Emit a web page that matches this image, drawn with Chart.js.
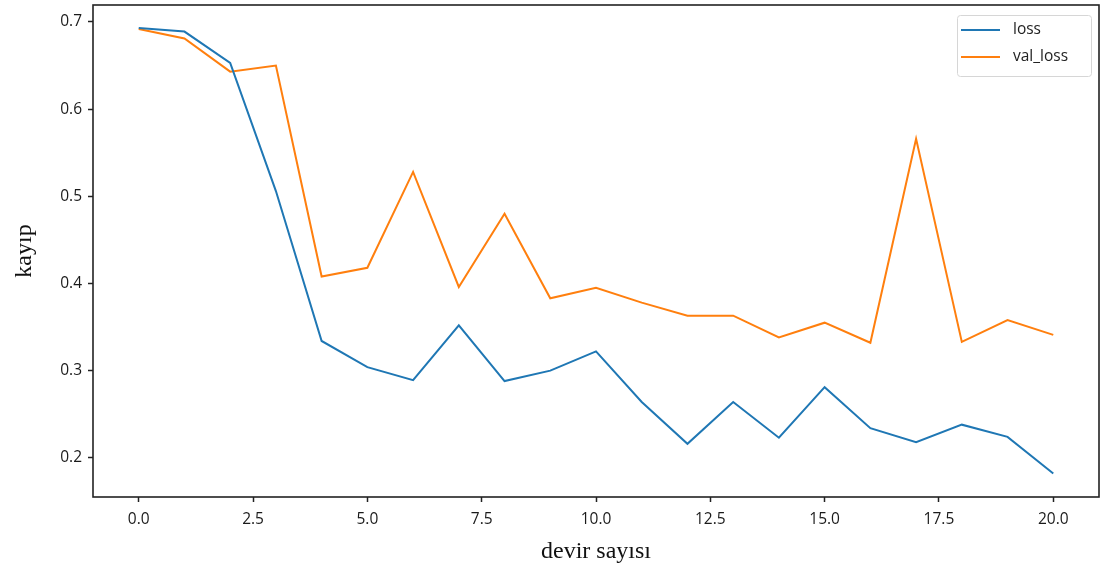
<!DOCTYPE html>
<html><head><meta charset="utf-8">
<script src="https://cdn.jsdelivr.net/npm/chart.js@4.4.1/dist/chart.umd.min.js"></script>
<style>html,body{margin:0;padding:0;background:#fff}#wrap{width:1104px;height:572px}</style>
</head><body><div id="wrap"><canvas id="c" width="1104" height="572"></canvas></div>
<script>
const epochs = [0,1,2,3,4,5,6,7,8,9,10,11,12,13,14,15,16,17,18,19,20];
const lossValues = [0.693,0.689,0.653,0.506,0.334,0.304,0.289,0.352,0.288,0.300,0.322,0.264,0.216,0.264,0.223,0.281,0.234,0.218,0.238,0.224,0.182];
const valLossValues = [0.692,0.681,0.643,0.650,0.408,0.418,0.528,0.396,0.480,0.383,0.395,0.378,0.363,0.363,0.338,0.355,0.332,0.566,0.333,0.358,0.341];
const xTicks = [0,2.5,5,7.5,10,12.5,15,17.5,20];
const yTicks = [0.2,0.3,0.4,0.5,0.6,0.7];
const seriesNames = ['loss','val_loss'];
const seriesColors = ['#1f77b4','#ff7f0e'];

const tickFont = {family:'"Open Sans", "DejaVu Sans", sans-serif', size:15.5};
const frameAndLegend = {
  id:'frameAndLegend',
  afterDatasetsDraw(chart){
    const {ctx, chartArea:a} = chart;
    ctx.save();
    ctx.strokeStyle = '#222'; ctx.lineWidth = 1.6;
    ctx.strokeRect(a.left, a.top, a.right-a.left, a.bottom-a.top);
    const bx = a.right-142, by = a.top+10, bw = 134, bh = 61;
    ctx.fillStyle = 'rgba(255,255,255,0.85)';
    ctx.strokeStyle = '#d6d6d6'; ctx.lineWidth = 1;
    ctx.beginPath();
    if (ctx.roundRect) ctx.roundRect(bx+0.5, by+0.5, bw, bh, 3); else ctx.rect(bx+0.5,by+0.5,bw,bh);
    ctx.fill(); ctx.stroke();
    ctx.font = '15.5px "Open Sans", "DejaVu Sans", sans-serif';
    ctx.textBaseline = 'middle';
    chart.data.datasets.forEach((ds,i)=>{
      const y = by + 15 + i*27;
      ctx.strokeStyle = ds.borderColor; ctx.lineWidth = 2;
      ctx.beginPath(); ctx.moveTo(bx+4, y); ctx.lineTo(bx+43, y); ctx.stroke();
      ctx.fillStyle = '#222';
      ctx.fillText(ds.label, bx+56, y);
    });
    ctx.restore();
  }
};

new Chart(document.getElementById('c'), {
  type:'line',
  data:{
    datasets:[
      {label:seriesNames[0], data:epochs.map((e,i)=>({x:e,y:lossValues[i]})), borderColor:seriesColors[0], backgroundColor:seriesColors[0], borderWidth:2, pointRadius:0, tension:0, fill:false},
      {label:seriesNames[1], data:epochs.map((e,i)=>({x:e,y:valLossValues[i]})), borderColor:seriesColors[1], backgroundColor:seriesColors[1], borderWidth:2, pointRadius:0, tension:0, fill:false}
    ]
  },
  options:{
    responsive:false, animation:false, devicePixelRatio:1,
    layout:{padding:{left:0,right:5,top:5,bottom:0}},
    plugins:{legend:{display:false}, tooltip:{enabled:false}},
    scales:{
      x:{type:'linear', min:-1, max:21,
        afterBuildTicks(s){ s.ticks = xTicks.map(v=>({value:v})); },
        afterFit(s){ s.height = 75; s.paddingLeft = 0; s.paddingRight = 0; },
        ticks:{font:tickFont, color:'#1a1a1a', padding:8, maxRotation:0, callback:v=>Number(v).toFixed(1)},
        grid:{drawOnChartArea:false, drawTicks:true, tickLength:5, tickColor:'#222', tickWidth:1.5},
        border:{display:false},
        title:{display:true, text:'devir sayısı', font:{family:'"Liberation Serif", "DejaVu Serif", serif', size:24}, color:'#111', padding:{top:6,bottom:6}}
      },
      y:{type:'linear', min:0.155, max:0.7195,
        afterBuildTicks(s){ s.ticks = yTicks.map(v=>({value:v})); },
        afterFit(s){ s.width = 93; s.paddingTop = 0; s.paddingBottom = 0; },
        ticks:{font:tickFont, color:'#1a1a1a', padding:6, callback:v=>Number(v).toFixed(1)},
        grid:{drawOnChartArea:false, drawTicks:true, tickLength:5, tickColor:'#222', tickWidth:1.5},
        border:{display:false},
        title:{display:true, text:'kayıp', font:{family:'"Liberation Serif", "DejaVu Serif", serif', size:24}, color:'#111', padding:{top:10,bottom:0}}
      }
    }
  },
  plugins:[frameAndLegend]
});
</script></body></html>
